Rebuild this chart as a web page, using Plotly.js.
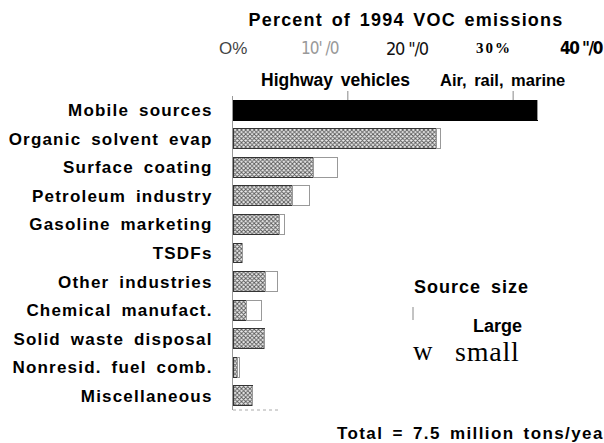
<!DOCTYPE html>
<html><head><meta charset="utf-8">
<script src="https://cdn.plot.ly/plotly-3.0.1.min.js"></script>
<style>html,body{margin:0;padding:0;background:#fff}</style>
</head><body>
<div id="chart" style="width:604px;height:443px"></div>
<script>
// ---- data (percent of 1994 VOC emissions) ----
const categories = ['Mobile sources','Organic solvent evap','Surface coating','Petroleum industry',
  'Gasoline marketing','TSDFs','Other industries','Chemical manufact.','Solid waste disposal',
  'Nonresid. fuel comb.','Miscellaneous'];
const mobileShare = [35.0, 0, 0, 0, 0, 0, 0, 0, 0, 0, 0];
const largeShare = [0, 23.4, 9.2, 6.8, 5.4, 1.1, 3.7, 1.6, 3.6, 0.5, 2.2];
const smallShare = [0, 0.5, 2.8, 2.0, 0.5, 0, 1.4, 1.7, 0, 0.2, 0];
const tickValues = [0, 10, 20, 30, 40];
const tickLabels = ['O%', "10' /0", '20 "/0', '30%', '40 "/0'];
const mobileSubLabels = ['Highway vehicles', 'Air, rail, marine'];
const mobileSubLabelCenters = [11.8, 31.0];
const mobileSubMarks = [13.2, 32.2];
const titleText = 'Percent of 1994 VOC emissions';
const totalText = 'Total = 7.5 million tons/year';

const SANS = 'Liberation Sans, Arial, sans-serif';
const COND = 'DejaVu Sans Condensed, DejaVu Sans, sans-serif';
const SERIF = 'Liberation Serif, Times New Roman, serif';
const tickFonts = [
  {family: SANS, size: 17, color: '#444'},
  {family: COND, size: 17, color: '#999'},
  {family: COND, size: 18, color: '#111'},
  {family: SERIF, size: 15, color: '#000', weight: 'bold'},
  {family: COND, size: 17, color: '#000', weight: 'bold'}
];
const tickStyles = ['', 'font-stretch:condensed;letter-spacing:-1px', 'font-stretch:condensed;letter-spacing:-1.2px',
  'letter-spacing:2px', 'font-stretch:condensed;letter-spacing:-1.5px'];
const sp = (t, ls, ws) => '<span style="letter-spacing:' + ls + 'px;word-spacing:' + ws + 'px">' + t + '</span>';

const traces = [
  {type: 'bar', orientation: 'h', y: categories, x: mobileShare, width: 0.7,
   marker: {color: '#000', line: {color: '#000', width: 1}}, hoverinfo: 'skip', showlegend: false},
  {type: 'bar', orientation: 'h', y: categories, x: largeShare, width: 0.7,
   marker: {color: '#ececec', line: {color: '#333', width: 1},
     pattern: {shape: 'x', fgcolor: '#555', bgcolor: '#ececec', size: 3, solidity: 0.5}},
   hoverinfo: 'skip', showlegend: false},
  {type: 'bar', orientation: 'h', y: categories, x: smallShare, width: 0.7,
   marker: {color: '#ffffff', line: {color: '#999', width: 1}}, hoverinfo: 'skip', showlegend: false}
];

const py = p => (410 - p) / 314;   // pixel row -> paper y
const px = p => (p - 233) / 371;   // pixel col -> paper x

const ann = [];
tickValues.forEach((v, i) => ann.push({
  text: tickStyles[i] ? '<span style="' + tickStyles[i] + '">' + tickLabels[i] + '</span>' : tickLabels[i],
  x: v, xref: 'x', y: py(48), yref: 'paper', showarrow: false,
  xanchor: 'center', yanchor: 'middle', font: tickFonts[i]
}));
const subSizes = [17.5, 16.5];
mobileSubLabels.forEach((t, i) => ann.push({
  text: '<b>' + sp(t, 0, 3) + '</b>', x: mobileSubLabelCenters[i], xref: 'x', y: py(80), yref: 'paper',
  showarrow: false, xanchor: 'center', yanchor: 'middle', font: {family: SANS, size: subSizes[i], color: '#000'}
}));
ann.push({text: '<b>' + sp('Source size', 1, 4) + '</b>', xref: 'paper', yref: 'paper', x: px(412), y: py(287),
  xanchor: 'left', yanchor: 'middle', showarrow: false, font: {family: SANS, size: 18, color: '#000'}});
ann.push({text: '<b>Large</b>', xref: 'paper', yref: 'paper', x: px(471), y: py(326),
  xanchor: 'left', yanchor: 'middle', showarrow: false, font: {family: SANS, size: 18, color: '#000'}});
ann.push({text: 'w', xref: 'paper', yref: 'paper', x: px(411), y: py(351),
  xanchor: 'left', yanchor: 'middle', showarrow: false, font: {family: SERIF, size: 27, color: '#000'}});
ann.push({text: sp('small', 0.8, 0), xref: 'paper', yref: 'paper', x: px(453), y: py(351),
  xanchor: 'left', yanchor: 'middle', showarrow: false, font: {family: SERIF, size: 28, color: '#000'}});
ann.push({text: '<b>' + sp(totalText, 1.4, 3) + '</b>', xref: 'paper', yref: 'paper', x: px(335), y: py(433),
  xanchor: 'left', yanchor: 'middle', showarrow: false, font: {family: SANS, size: 17, color: '#000'}});

const shapes = mobileSubMarks.map(v => ({type: 'line', xref: 'x', yref: 'paper', x0: v, x1: v,
  y0: py(91), y1: py(100), line: {color: '#888', width: 1}}));
shapes.push({type: 'line', xref: 'paper', yref: 'paper', x0: px(413), x1: px(413),
  y0: py(307), y1: py(320), line: {color: '#888', width: 1}});
shapes.push({type: 'line', xref: 'x', yref: 'paper', x0: 0, x1: 5.2, y0: 0, y1: 0,
  line: {color: '#aaa', width: 1, dash: 'dot'}});

const layout = {
  width: 604, height: 443,
  margin: {l: 233, r: 0, t: 96, b: 33, pad: 0},
  paper_bgcolor: '#fff', plot_bgcolor: '#fff',
  barmode: 'stack', bargap: 0.3,
  title: {text: '<b>' + sp(titleText, 1.2, 2.5) + '</b>', xref: 'container', yref: 'container',
    x: 406 / 604, y: 1 - 20 / 443, xanchor: 'center', yanchor: 'middle',
    font: {family: SANS, size: 18, color: '#000'}},
  xaxis: {side: 'top', range: [0, 371 / 8.7], showticklabels: false,
    ticks: '', showgrid: false, zeroline: false, showline: false, fixedrange: true},
  yaxis: {type: 'category', categoryarray: categories, range: [10.5, -0.5],
    tickvals: categories, ticktext: categories.map(c => sp(c, 1.2, 4)),
    ticks: '', showgrid: false, zeroline: false, showline: true, linecolor: '#999', linewidth: 1,
    ticklabelstandoff: 16,
    tickfont: {family: SANS, size: 17, color: '#000', weight: 'bold'}, fixedrange: true},
  annotations: ann, shapes: shapes
};
Plotly.newPlot('chart', traces, layout, {staticPlot: true, displayModeBar: false});
</script>
</body></html>
